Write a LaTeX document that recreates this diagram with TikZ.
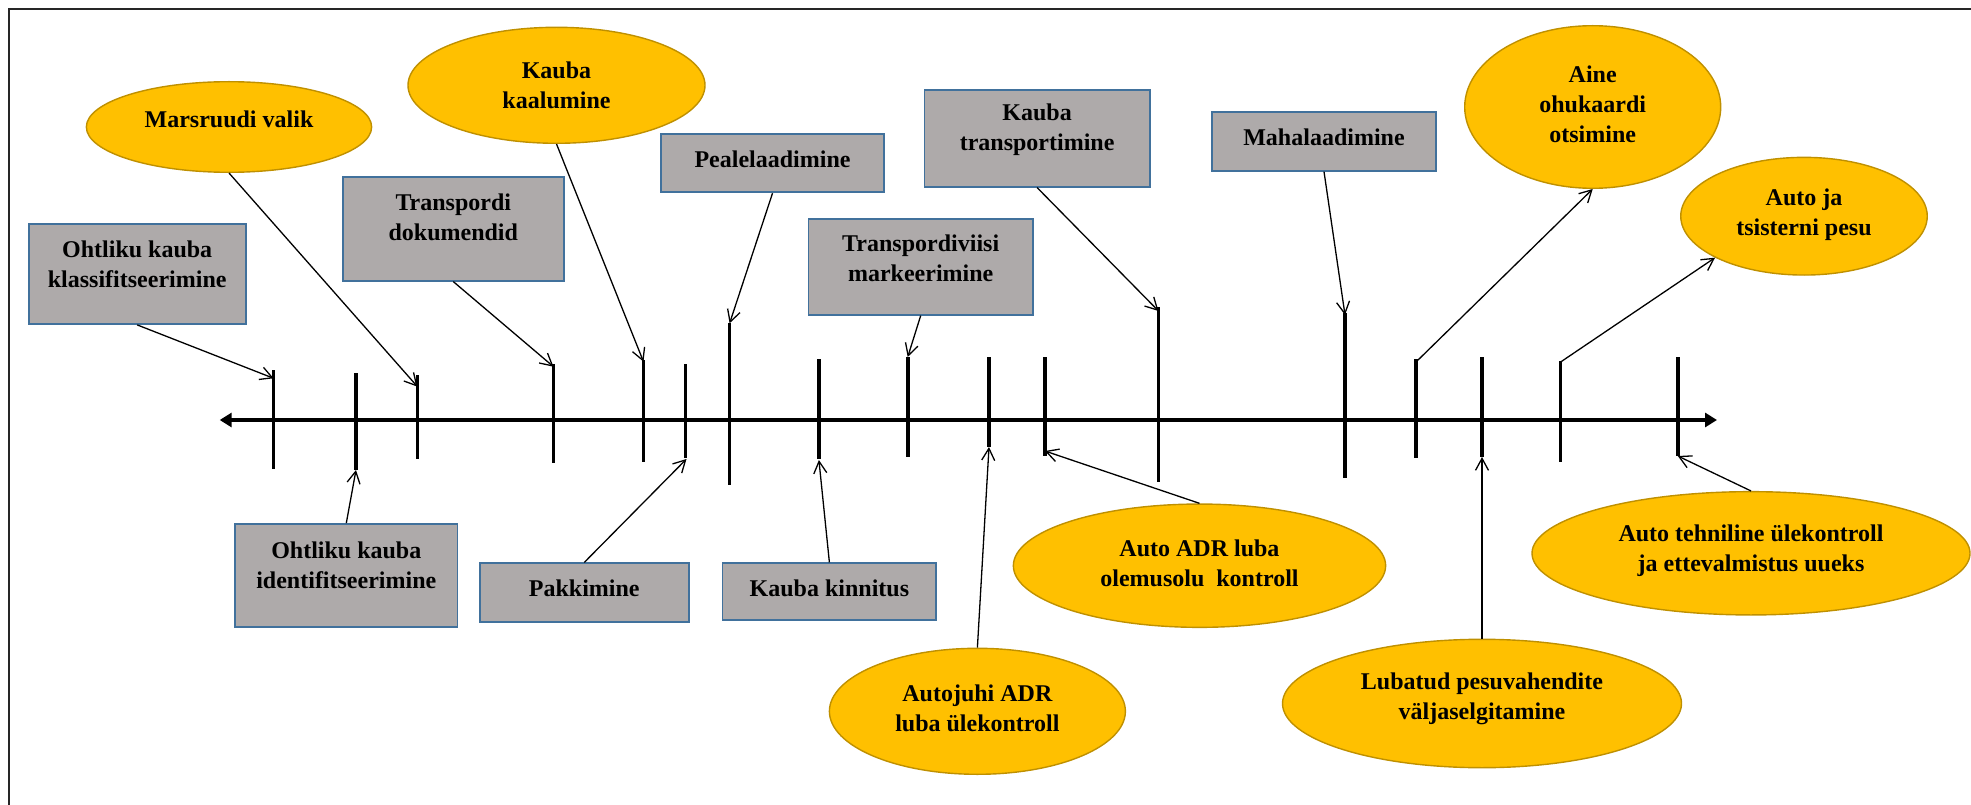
\documentclass[tikz,border=0pt]{standalone}
\usepackage{fontspec}
\setmainfont{Liberation Serif}
\usetikzlibrary{shapes.geometric,arrows.meta}
\definecolor{boxfill}{HTML}{AEAAAA}
\definecolor{boxline}{HTML}{41719C}
\definecolor{ovalfill}{HTML}{FFC000}
\definecolor{ovalline}{HTML}{BF9000}
\begin{document}
\begin{tikzpicture}[x=1pt,y=-1pt,
  stepbox/.style={draw=boxline, line width=1.8pt, fill=boxfill, inner sep=0pt},
  oval/.style={ellipse, draw=ovalline, line width=1.4pt, fill=ovalfill, inner sep=0pt},
  lbl/.style={font=\bfseries\fontsize{24}{30}\selectfont, align=center, inner sep=0pt, text=black},
  tickline/.style={line width=3.6pt},
  conn/.style={line width=1.3pt, -{Straight Barb[length=12pt,width=13pt,line width=1.3pt]}},
  mainaxis/.style={line width=3.2pt, {Triangle[length=12pt,width=14pt]}-{Triangle[length=12pt,width=14pt]}}
]
\useasboundingbox (0,0) rectangle (1971,805);

% outer frame (only its top and left sides fall inside the page)
\draw[line width=2.2pt, black!85, line join=miter] (9,805) -- (9,9.3) -- (1971,9.3);

% time axis
\coordinate (axl) at (219.7,420);
\coordinate (axr) at (1717,420);
\draw[mainaxis] (axl) -- (axr);

% tick marks on the axis
\foreach \n/\x/\t/\b in {1/273.6/370/469, 2/356/373/470, 3/417.5/375/459,
    4/553.5/364/463, 5/643.5/360/462, 6/685.5/364/458, 7/729.6/323/485,
    8/818.9/359/459, 9/907.7/357/457, 10/989/357/447, 11/1044.9/357/456,
    12/1158.5/307/482, 13/1345/313/478, 14/1416/359/458, 15/1482/357/457,
    16/1560.6/361/462, 17/1677.8/357/456} {
  \coordinate (t\n top) at (\x,\t);
  \coordinate (t\n bot) at (\x,\b);
  \draw[tickline] (t\n top) -- (t\n bot);
}

% process steps (boxes)
\node[stepbox, minimum width=217.2pt, minimum height=100pt,
  label={[lbl,yshift=10pt]center:Ohtliku kauba\\klassifitseerimine}] (b1) at (137.2,274) {};
\node[stepbox, minimum width=221.4pt, minimum height=103.4pt,
  label={[lbl,yshift=12pt]center:Transpordi\\dokumendid}] (b2) at (453.3,229) {};
\node[stepbox, minimum width=223pt, minimum height=58.3pt,
  label={[lbl,yshift=4.4pt]center:Pealelaadimine}] (b3) at (772.5,163.2) {};
\node[stepbox, minimum width=225.2pt, minimum height=96.4pt,
  label={[lbl,yshift=8.5pt]center:Kauba\\transportimine}] (b4) at (1037.1,138.5) {};
\node[stepbox, minimum width=224.6pt, minimum height=96pt,
  label={[lbl,yshift=8pt]center:Transpordiviisi\\markeerimine}] (b5) at (920.7,266.7) {};
\node[stepbox, minimum width=224pt, minimum height=58.4pt,
  label={[lbl,yshift=4.5pt]center:Mahalaadimine}] (b6) at (1324,141.5) {};
\node[stepbox, minimum width=222.5pt, minimum height=103pt,
  label={[lbl,yshift=10.5pt]center:Ohtliku kauba\\identifitseerimine}] (b7) at (346.3,575.5) {};
\node[stepbox, minimum width=209pt, minimum height=58.4pt,
  label={[lbl,yshift=4pt]center:Pakkimine}] (b8) at (584.3,592.5) {};
\node[stepbox, minimum width=213.8pt, minimum height=56.7pt,
  label={[lbl,yshift=3pt]center:Kauba kinnitus}] (b9) at (829.4,591.7) {};

% checks (ovals)
\node[oval, minimum width=285.3pt, minimum height=90.6pt,
  label={[lbl,yshift=8pt]center:Marsruudi valik}] (e1) at (229,127) {};
\node[oval, minimum width=297pt, minimum height=116pt,
  label={[lbl]center:Kauba\\kaalumine}] (e2) at (556.5,85.3) {};
\node[oval, minimum width=256pt, minimum height=162.6pt,
  label={[lbl,yshift=3pt]center:Aine\\ohukaardi\\otsimine}] (e3) at (1592.7,107) {};
\node[oval, minimum width=246.5pt, minimum height=117.7pt,
  label={[lbl,yshift=1pt]center:Auto ja\\tsisterni pesu}] (e4) at (1804,216.2) {};
\node[oval, minimum width=296pt, minimum height=126pt,
  label={[lbl,yshift=2.5pt]center:Autojuhi ADR\\luba ülekontroll}] (e5) at (977.4,711.3) {};
\node[oval, minimum width=372.3pt, minimum height=123.3pt,
  label={[lbl,yshift=2.4pt]center:Auto ADR luba\\olemusolu~ kontroll}] (e6) at (1199.5,565.7) {};
\node[oval, minimum width=399pt, minimum height=128.4pt,
  label={[lbl,yshift=4.5pt]center:Lubatud pesuvahendite\\väljaselgitamine}] (e7) at (1482,703.5) {};
\node[oval, minimum width=438pt, minimum height=123.3pt,
  label={[lbl,yshift=3pt]center:Auto tehniline ülekontroll\\ja ettevalmistus uueks}] (e8) at (1751,553.3) {};

% arrow end points on the ticks
\coordinate (p1) at (273.6,378.3);
\coordinate (p2) at (417.5,386.7);
\coordinate (p3) at (553.5,366.7);
\coordinate (p4) at (643.5,361.7);
\coordinate (p5) at (729.6,323.3);
\coordinate (p6) at (907.7,357);
\coordinate (p7) at (1158.5,311);
\coordinate (p8) at (1345,315);
\coordinate (p9) at (1416,362);
\coordinate (p10) at (1560.6,362);
\coordinate (p11) at (356,470);
\coordinate (p12) at (686.5,459);
\coordinate (p13) at (818.9,460);
\coordinate (p14) at (989,447);
\coordinate (p15) at (1044.9,451);
\coordinate (p16) at (1482,457);
\coordinate (p17) at (1677.8,456);

% connectors above the axis
\draw[conn] (b1.south) -- (p1);
\draw[conn] (e1.south) -- (p2);
\draw[conn] (b2.south) -- (p3);
\draw[conn] (e2.south) -- (p4);
\draw[conn] (b3.south) -- (p5);
\draw[conn] (b5.south) -- (p6);
\draw[conn] (b4.south) -- (p7);
\draw[conn] (b6.south) -- (p8);
\draw[conn] (p9) -- (e3.south);
\draw[conn] (p10) -- (e4.205);

% connectors below the axis
\draw[conn] (b7.north) -- (p11);
\draw[conn] (b8.north) -- (p12);
\draw[conn] (b9.north) -- (p13);
\draw[conn] (e5.north) -- (p14);
\draw[conn] (e6.north) -- (p15);
\draw[conn] (e7.north) -- (p16);
\draw[conn] (e8.north) -- (p17);
\end{tikzpicture}
\end{document}
